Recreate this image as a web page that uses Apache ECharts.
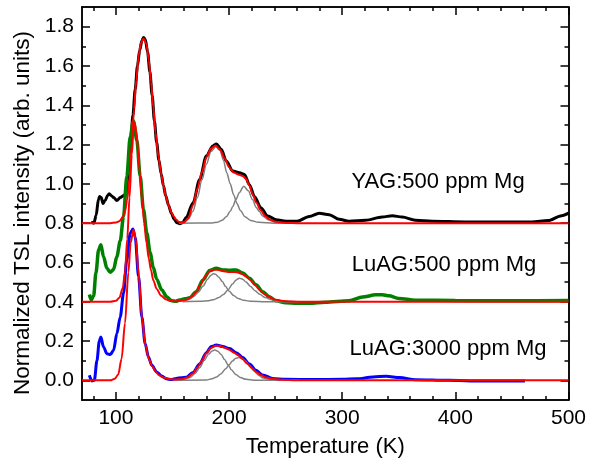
<!DOCTYPE html>
<html>
<head>
<meta charset="utf-8">
<script src="https://cdn.jsdelivr.net/npm/echarts@6/dist/echarts.min.js"></script>
<style>
  html, body { margin: 0; padding: 0; background: #fff; }
  #main { width: 589px; height: 464px; }
</style>
</head>
<body>
<div id="main"></div>
<script>
// tick positions
const xTicks = [100, 200, 300, 400, 500];
const xMinorTicks = [80, 120, 140, 160, 180, 220, 240, 260, 280, 320, 340, 360, 380, 420, 440, 460, 480];
const yTicks = [0, 0.2, 0.4, 0.6, 0.8, 1.0, 1.2, 1.4, 1.6, 1.8];
const yMinorTicks = [0.1, 0.3, 0.5, 0.7, 0.9, 1.1, 1.3, 1.5, 1.7];

// sample labels
const sampleNames = ['YAG:500 ppm Mg', 'LuAG:500 ppm Mg', 'LuAG:3000 ppm Mg'];

// YAG:500 ppm Mg (offset 0.8)
const yagData = [[78,0.805],[80.5,0.8],[82.5,0.84],[84.5,0.92],[85.5,0.935],[87,0.93],[88.5,0.9],[90.5,0.915],
  [92.5,0.94],[94,0.95],[96,0.94],[98,0.93],[100.8,0.915],[103.8,0.93],[106.7,0.94],[108.8,0.95],[111,1.05],
  [113,1.2],[115,1.35],[117,1.48],[119,1.6],[121,1.68],[123,1.73],[124.5,1.745],[126,1.735],[128,1.67],[130,1.57],
  [132,1.45],[134,1.32],[136,1.21],[138,1.12],[140,1.05],[142,0.99],[144,0.94],[146.5,0.89],[149,0.85],[151.5,0.82],
  [154,0.802],[156.5,0.797],[159,0.803],[162.2,0.83],[168.1,0.903],[174,1.022],[179.9,1.142],[185.7,1.193],
  [188.7,1.203],[193.1,1.176],[197.5,1.116],[203.3,1.065],[209.2,1.056],[213.6,1.048],[218,0.996],[222.4,0.936],
  [228.3,0.877],[234.1,0.837],[241.5,0.817],[250.3,0.81],[260,0.81],[270.9,0.834],[279.7,0.851],[288.5,0.843],
  [297.3,0.82],[306,0.81],[320.7,0.815],[335.4,0.831],[344.2,0.838],[353,0.831],[364.7,0.815],[379.4,0.81],
  [408.7,0.806],[438,0.806],[467.5,0.806],[482,0.813],[494,0.838],[500,0.851]];
const yagFit = [[70,0.8],[95,0.8],[100,0.803],[103,0.81],[106,0.83],[108,0.86],[110,0.92],[112,1.03],[114,1.2],
  [116,1.38],[118,1.53],[120,1.65],[122,1.715],[124.5,1.74],[127,1.71],[129,1.63],[131,1.52],[133,1.39],[135,1.26],
  [137.5,1.14],[140,1.05],[142,0.99],[144,0.94],[146.5,0.89],[149,0.855],[151,0.835],[153,0.82],[155.5,0.807],
  [158,0.802],[160,0.803],[164,0.825],[168,0.89],[172,0.975],[176,1.06],[180,1.135],[184,1.18],[188,1.195],
  [192,1.175],[196,1.13],[200,1.085],[204,1.058],[208,1.048],[212,1.04],[215,1.025],[218,0.99],[221,0.945],
  [224,0.905],[228,0.865],[232,0.835],[236,0.818],[240,0.809],[245,0.804],[252,0.801],[260,0.8],[500,0.8]];
const yagPeak1 = [[156,0.8],[160,0.805],[164,0.82],[168,0.86],[172,0.93],[176,1.02],[180,1.1],[184,1.165],
  [188.4,1.19],[192,1.17],[195,1.12],[198,1.055],[201,1.0],[204,0.945],[207,0.9],[210,0.865],[214,0.833],
  [219,0.814],[226,0.804],[240,0.8],[260,0.8]];
const yagPeak2 = [[156,0.8],[185,0.801],[190,0.805],[194,0.815],[197.5,0.832],[201,0.86],[203.3,0.885],[206,0.92],
  [209,0.955],[213,0.988],[217,0.965],[220.7,0.92],[224,0.88],[226.6,0.86],[230,0.835],[234.7,0.817],[240,0.807],
  [248,0.801],[260,0.8]];

// LuAG:500 ppm Mg (offset 0.4)
const luag500Data = [[76.5,0.437],[78.2,0.41],[80.3,0.43],[82.3,0.547],[84.7,0.665],[86.7,0.69],[89,0.63],[92,0.57],
  [95,0.55],[97.9,0.564],[100.8,0.63],[103.8,0.71],[106.7,0.834],[109.6,1.037],[112.6,1.24],[115.5,1.32],
  [118.5,1.22],[121.4,1.04],[124.3,0.87],[127.3,0.75],[130.2,0.65],[133,0.575],[136,0.515],[140.5,0.46],
  [144.9,0.425],[149.3,0.405],[153,0.402],[156.3,0.409],[161,0.415],[165.1,0.42],[171,0.451],[176.9,0.511],
  [182.8,0.559],[188.7,0.571],[194.5,0.562],[200.4,0.56],[206.3,0.562],[212.1,0.546],[218,0.52],[223.8,0.486],
  [229.7,0.451],[235.6,0.426],[241.5,0.405],[250,0.395],[260,0.392],[271,0.392],[285,0.398],[306,0.405],
  [318,0.424],[329.6,0.435],[335.4,0.436],[341.3,0.43],[350,0.417],[364.7,0.408],[400,0.406],[450,0.405],[500,0.406]];
const luag500Fit = [[70,0.4],[95,0.4],[100,0.405],[103,0.42],[106,0.47],[108,0.55],[110,0.72],[112,0.93],[114,1.15],
  [115.5,1.27],[116.5,1.31],[118,1.27],[119.5,1.18],[121,1.06],[123,0.92],[125,0.8],[127,0.7],[129,0.62],[131,0.56],
  [133,0.51],[136,0.465],[140,0.43],[144,0.413],[148,0.405],[153,0.402],[158,0.405],[163,0.412],[167,0.425],
  [171,0.45],[175,0.49],[179,0.53],[183,0.555],[187,0.563],[191,0.562],[195,0.555],[199,0.552],[203,0.552],
  [207,0.55],[211,0.543],[215,0.53],[219,0.51],[223,0.485],[227,0.46],[231,0.44],[235,0.425],[240,0.412],
  [246,0.405],[255,0.401],[265,0.4],[500,0.4]];
const luag500Peak1 = [[159,0.405],[164,0.413],[169,0.428],[173,0.45],[177,0.48],[181,0.515],[184,0.535],[186,0.542],
  [188,0.54],[191,0.525],[194,0.503],[197,0.477],[200,0.455],[204,0.432],[208,0.417],[213,0.407],[220,0.402],
  [232,0.4],[262,0.4]];
const luag500Peak2 = [[159,0.4],[175,0.402],[182,0.405],[187,0.412],[191,0.422],[195,0.437],[199,0.46],[203,0.49],
  [206,0.51],[209,0.52],[212,0.515],[215,0.5],[219,0.478],[223,0.456],[227,0.438],[232,0.421],[238,0.41],
  [245,0.404],[262,0.4]];

// LuAG:3000 ppm Mg (offset 0)
const luag3000Data = [[76.5,0.026],[78.8,-0.003],[80.9,0.0],[83.2,0.1],[85.3,0.2],[86.7,0.221],[89,0.17],[92,0.136],
  [95,0.131],[97.9,0.153],[100.8,0.238],[103.8,0.323],[106.7,0.443],[109.6,0.613],[112.6,0.749],[115,0.77],
  [117,0.73],[120,0.528],[122.9,0.323],[125.8,0.187],[128.7,0.119],[131.7,0.077],[136,0.043],[140.5,0.022],
  [144.5,0.008],[149,0.004],[153.3,0.01],[158,0.013],[162.2,0.016],[168.1,0.04],[174,0.083],[179.9,0.141],
  [184.3,0.172],[188.7,0.18],[194.5,0.172],[200.4,0.162],[206.3,0.141],[212.1,0.116],[218,0.083],[223.8,0.051],
  [229.7,0.027],[238.5,0.01],[250,0.005],[274.5,0.004],[300,0.005],[312.6,0.008],[327.3,0.017],[339,0.021],
  [350.8,0.014],[364.7,0.003],[394,0.0],[423.5,-0.003],[461.5,-0.003]];
const luag3000Fit = [[70,0],[95,0],[99,0.008],[102,0.03],[105,0.11],[108,0.29],[111,0.55],[113,0.7],[115.5,0.767],
  [117.5,0.72],[120,0.54],[123,0.32],[126,0.18],[129,0.11],[132,0.072],[135,0.045],[138,0.027],[142,0.014],
  [147,0.007],[152,0.004],[158,0.006],[163,0.014],[168,0.035],[172,0.065],[176,0.1],[180,0.138],[184,0.165],
  [188,0.176],[192,0.175],[196,0.166],[200,0.156],[204,0.142],[208,0.128],[212,0.108],[216,0.086],[220,0.063],
  [224,0.043],[228,0.027],[232,0.016],[238,0.008],[246,0.003],[260,0],[500,0]];
const luag3000Peak1 = [[152,0],[160,0.004],[165,0.013],[170,0.035],[174,0.064],[178,0.101],[182,0.134],[185,0.15],
  [187.5,0.154],[190,0.148],[193,0.131],[196,0.106],[199,0.08],[202,0.054],[206,0.03],[210,0.014],[215,0.005],
  [222,0.001],[262,0]];
const luag3000Peak2 = [[152,0],[180,0.002],[185,0.008],[189,0.017],[193,0.034],[197,0.059],[200,0.079],[203,0.099],
  [206,0.112],[208.6,0.116],[211,0.113],[214,0.101],[218,0.075],[222,0.048],[226,0.026],[230,0.012],[236,0.004],
  [245,0.001],[262,0]];

const FONT = 'Liberation Sans';

function lineSeries(data, color, width) {
  return {
    type: 'line',
    data: data,
    showSymbol: false,
    smooth: 0.3,
    smoothMonotone: 'x',
    clip: true,
    lineStyle: { color: color, width: width },
    itemStyle: { color: color },
    emphasis: { disabled: true }
  };
}

function xAxisDef(position, ticks, len, withLabel) {
  return {
    type: 'value', min: 70, max: 500, position: position,
    axisLine: { show: true, onZero: false, lineStyle: { color: '#000', width: 1.5 } },
    axisTick: { show: true, inside: true, length: len, customValues: ticks, lineStyle: { color: '#000', width: 1.5 } },
    axisLabel: withLabel
      ? { show: true, customValues: ticks, fontSize: 21, fontFamily: FONT, color: '#000', margin: 8 }
      : { show: false },
    splitLine: { show: false }
  };
}

function yAxisDef(position, ticks, len, withLabel) {
  return {
    type: 'value', min: -0.1, max: 1.9, position: position,
    axisLine: { show: true, onZero: false, lineStyle: { color: '#000', width: 1.5 } },
    axisTick: { show: true, inside: true, length: len, customValues: ticks, lineStyle: { color: '#000', width: 1.5 } },
    axisLabel: withLabel
      ? { show: true, customValues: ticks, fontSize: 21, fontFamily: FONT, color: '#000', margin: 8,
          formatter: v => v.toFixed(1) }
      : { show: false },
    splitLine: { show: false }
  };
}

const xMain = xAxisDef('bottom', xTicks, 8, true);
xMain.name = 'Temperature (K)';
xMain.nameLocation = 'middle';
xMain.nameGap = 36;
xMain.nameTextStyle = { fontSize: 22, fontFamily: FONT, color: '#000' };

let myChart = echarts.init(document.getElementById('main'));
myChart.setOption({
  animation: false,
  backgroundColor: '#fff',
  grid: { left: 82, right: 19, top: 7, bottom: 64 },
  xAxis: [
    xMain,
    xAxisDef('bottom', xMinorTicks, 4, false),
    xAxisDef('top', xTicks, 8, false),
    xAxisDef('top', xMinorTicks, 4, false)
  ],
  yAxis: [
    yAxisDef('left', yTicks, 8, true),
    yAxisDef('left', yMinorTicks, 4, false),
    yAxisDef('right', yTicks, 8, false),
    yAxisDef('right', yMinorTicks, 4, false)
  ],
  series: [
    lineSeries(yagData, '#000000', 3),
    lineSeries(luag500Data, '#008000', 3.5),
    lineSeries(luag3000Data, '#0000ff', 3),
    lineSeries(yagPeak1, '#808080', 1.5),
    lineSeries(yagPeak2, '#808080', 1.5),
    lineSeries(luag500Peak1, '#808080', 1.5),
    lineSeries(luag500Peak2, '#808080', 1.5),
    lineSeries(luag3000Peak1, '#808080', 1.5),
    lineSeries(luag3000Peak2, '#808080', 1.5),
    lineSeries(yagFit, '#ff0000', 2),
    lineSeries(luag500Fit, '#ff0000', 2),
    lineSeries(luag3000Fit, '#ff0000', 2)
  ],
  graphic: [
    { type: 'text', x: 23, y: 213, rotation: Math.PI / 2,
      style: { text: 'Normalized TSL intensity (arb. units)', font: '22.5px "Liberation Sans"', fill: '#000', align: 'center', verticalAlign: 'middle' } },
    { type: 'text', x: 438, y: 182, style: { text: sampleNames[0], font: '22px "Liberation Sans"', fill: '#000', align: 'center', verticalAlign: 'middle' } },
    { type: 'text', x: 444, y: 265, style: { text: sampleNames[1], font: '22px "Liberation Sans"', fill: '#000', align: 'center', verticalAlign: 'middle' } },
    { type: 'text', x: 448, y: 349, style: { text: sampleNames[2], font: '22px "Liberation Sans"', fill: '#000', align: 'center', verticalAlign: 'middle' } }
  ]
});
</script>
</body>
</html>
